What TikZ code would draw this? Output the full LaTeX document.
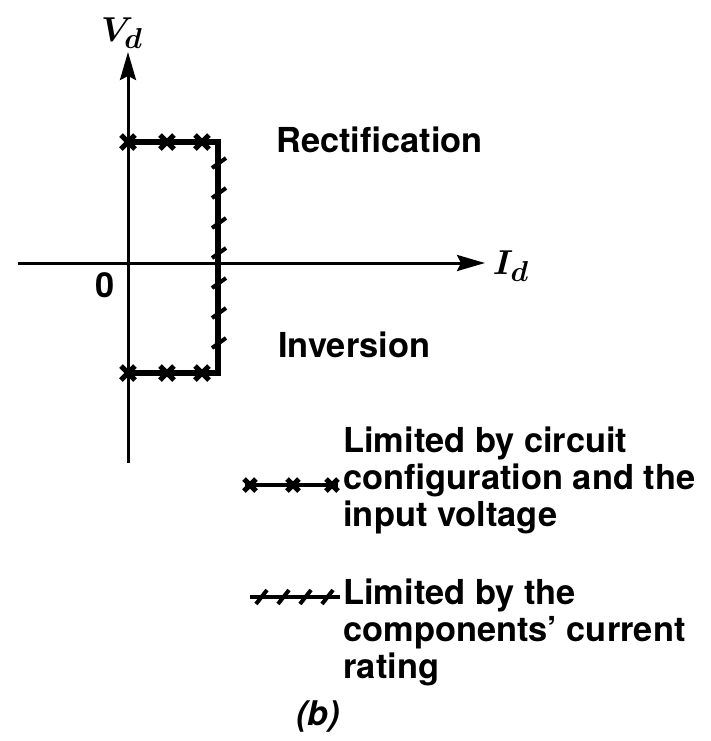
\documentclass[tikz,border=0pt]{standalone}
\usepackage{fontspec}
\setmainfont{TeX Gyre Heros}
\usepackage{amsmath}
\usetikzlibrary{arrows.meta}

\begin{document}
\begin{tikzpicture}[x=0.5pt,y=-0.5pt,
        axis/.style={line width=1.5pt,-{Stealth[length=14pt,width=8pt,inset=2pt]}},
        bound/.style={line width=3pt,line join=miter},
        xmark/.style={line width=2.6pt},
        tmark/.style={line width=2pt},
        lbl/.style={font=\fontsize{17.2}{18.7}\selectfont\bfseries,inner sep=0pt},
        sym/.style={font=\fontsize{19}{19}\selectfont,inner sep=0pt}]
        \useasboundingbox (0,0) rectangle (711,741);
        % axes
        \draw[axis] (128,463) -- (128,52);
        \draw[axis] (18,263) -- (485,263);
        \node[sym] (vd) at (122,33) {$\boldsymbol{V_d}$};
        \node[sym] (id) at (511,266) {$\boldsymbol{I_d}$};
        \node[lbl] (zero) at (105,285) {0};
        % operating region
        \draw[bound] (128,142) -- (218,142) -- (218,373) -- (128,373);
        \foreach \x in {128,167,202} {
            \draw[xmark] (\x-7,135) -- (\x+7,149) (\x-7,149) -- (\x+7,135);
            \draw[xmark] (\x-7,366) -- (\x+7,380) (\x-7,380) -- (\x+7,366);
        }
        \foreach \y in {163,193,223,253,283,313,343} {
            \draw[tmark] (212,\y+5) -- (226,\y-5);
        }
        \node[lbl,anchor=west] (rect) at (276,140) {Rectification};
        \node[lbl,anchor=west] (inv) at (278,345) {Inversion};
        % legend
        \draw[line width=2pt] (245,485) -- (338,485);
        \foreach \x in {250,293,332} {
            \draw[xmark] (\x-6,479) -- (\x+6,491) (\x-6,491) -- (\x+6,479);
        }
        \node[lbl,anchor=north west,align=left] (lim1) at (343,426)
            {Limited by circuit\\configuration and the\\input voltage};
        \draw[line width=2pt] (250,597) -- (340,597);
        \foreach \x in {262,284,306,328} {
            \draw[tmark] (\x-6,604) -- (\x+5,590);
        }
        \node[lbl,anchor=north west,align=left] (lim2) at (343,578)
            {Limited by the\\components' current\\rating};
        \node[lbl,font=\fontsize{17}{18}\selectfont\bfseries\itshape] (cap) at (318,716) {(b)};
\end{tikzpicture}
\end{document}
